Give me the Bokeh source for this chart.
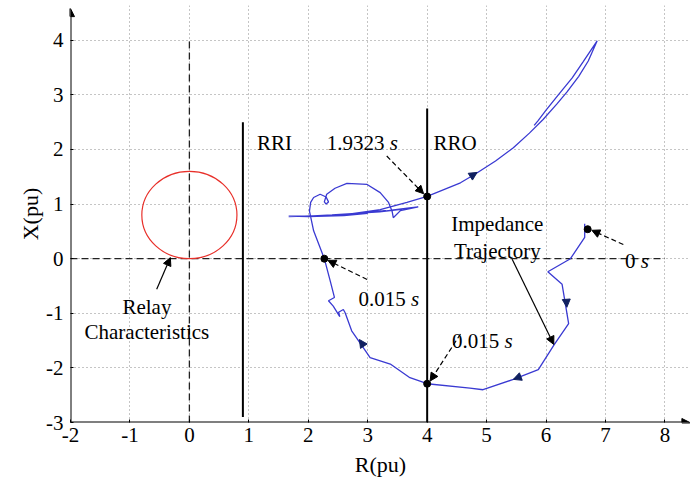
from bokeh.plotting import figure
from bokeh.models import Arrow, NormalHead, FixedTicker, Range1d
from bokeh.core.properties import value
from bokeh.embed import file_html
from bokeh.resources import INLINE

FONT = "Liberation Serif"
FS = "21px"

# axis ticks and their labels (plain hyphen minus)
x_ticks = [-2, -1, 0, 1, 2, 3, 4, 5, 6, 7, 8]
y_ticks = [-3, -2, -1, 0, 1, 2, 3, 4]
x_tick_labels = ["-2", "-1", "0", "1", "2", "3", "4", "5", "6", "7", "8"]
y_tick_labels = ["-3", "-2", "-1", "0", "1", "2", "3", "4"]

# relay (mho) characteristic: centre and diameter
relay_r, relay_x, relay_d = 0.0, 0.8, 1.6

# relay reach lines
rri_r, rri_x0, rri_x1 = 0.9, -2.9, 2.5
rro_r, rro_x0, rro_x1 = 4.0, -3.0, 2.75

# impedance trajectory (R, X) in pu
traj_r = [6.65, 6.65, 6.41, 6.03, 6.27, 6.38, 6.14, 5.87, 5.45, 4.94, 4.72, 4.00,
          3.71, 3.38, 3.04, 2.87, 2.73, 2.62, 2.59, 2.51, 2.53, 2.42, 2.34, 2.44,
          2.37, 2.27, 2.09, 2.02, 2.04, 2.09, 2.20, 2.30, 2.34, 2.30, 2.27, 2.31,
          2.45, 2.65, 2.99, 3.21, 3.35, 3.41, 3.43, 3.55, 3.85, 3.70, 3.40, 3.60,
          3.20, 2.80, 2.40, 2.00, 1.67, 2.00, 2.60, 3.00, 2.85, 3.30, 3.10, 2.65,
          2.20, 1.67, 2.20, 2.65, 3.21, 3.66, 4.00, 4.56, 4.81, 5.15, 5.45, 5.72,
          5.95, 6.18, 6.35, 6.55, 6.71, 6.86, 6.62, 6.44, 6.22, 6.00, 5.86, 5.80]
traj_x = [0.64, 0.39, 0.00, -0.24, -0.47, -1.19, -1.57, -2.03, -2.21, -2.40, -2.37, -2.29,
          -2.18, -1.93, -1.81, -1.54, -1.32, -0.99, -0.93, -0.98, -1.06, -0.87, -0.77, -0.71,
          -0.41, 0.00, 0.51, 0.87, 1.03, 1.12, 1.18, 1.13, 1.04, 1.00, 1.04, 1.18,
          1.29, 1.38, 1.36, 1.21, 1.03, 0.87, 0.75, 0.88, 0.95, 0.93, 0.89, 0.91,
          0.86, 0.83, 0.80, 0.78, 0.78, 0.77, 0.79, 0.83, 0.84, 0.88, 0.86, 0.81,
          0.79, 0.77, 0.79, 0.81, 0.90, 1.03, 1.14, 1.39, 1.55, 1.79, 2.03, 2.30,
          2.55, 2.83, 3.05, 3.34, 3.62, 3.99, 3.60, 3.31, 3.02, 2.72, 2.52, 2.44]

# direction markers along the trajectory (start -> tip)
dir_r0 = [4.68, 6.33, 5.62, 2.97]
dir_x0 = [1.47, -0.60, -2.14, -1.66]
dir_r1 = [4.84, 6.35, 5.45, 2.86]
dir_x1 = [1.58, -0.89, -2.21, -1.48]

# marked time instants
pt_r = [6.70, 2.27, 4.00, 4.00]
pt_x = [0.54, 0.00, -2.29, 1.14]

# dashed callout arrows (start -> tip)
call_r0 = [3.32, 2.99, 4.56, 7.30]
call_x0 = [1.88, -0.38, -1.38, 0.26]
call_r1 = [3.94, 2.33, 4.05, 6.77]
call_x1 = [1.19, -0.03, -2.24, 0.52]

# solid callout arrows (start -> tip)
sol_r0 = [-0.55, 5.43]
sol_x0 = [-0.56, -0.01]
sol_r1 = [-0.32, 6.13]
sol_x1 = [0.02, -1.57]

# time labels: number part and italic unit
time_txt = ["1.9323", "0.015", "0.015", "0"]
time_r = [2.31, 2.845, 4.417, 7.33]
time_x = [2.11, -0.74, -1.51, -0.04]
unit_off = [63, 52.5, 52.5, 15.75]

# other text annotations
note_txt = ["RRI", "RRO"]
note_r = [1.136, 4.107]
note_x = [2.11, 2.11]
center_txt = ["Relay", "Characteristics", "Impedance", "Trajectory"]
center_r = [-0.715, -0.715, 5.18, 5.18]
center_x = [-0.885, -1.34, 0.64, 0.14]

p = figure(width=696, height=479, output_backend="svg", toolbar_location=None,
           x_range=Range1d(-2, 8.43), y_range=Range1d(-3, 4.637),
           min_border_left=70, min_border_right=6, min_border_top=5, min_border_bottom=57)
p.outline_line_color = None
p.background_fill_color = "white"

for ax in (p.xaxis[0], p.yaxis[0]):
    ax.axis_line_color = None
    ax.major_tick_in = 3
    ax.major_tick_out = 0
    ax.major_tick_line_color = "black"
    ax.major_tick_line_width = 1
    ax.minor_tick_line_color = None
    ax.major_label_text_font = FONT
    ax.major_label_text_font_size = FS
    ax.major_label_text_color = "black"
    ax.axis_label_text_font = FONT
    ax.axis_label_text_font_size = "22px"
    ax.axis_label_text_font_style = "normal"
    ax.axis_label_text_color = "black"
p.xaxis.ticker = FixedTicker(ticks=x_ticks)
p.yaxis.ticker = FixedTicker(ticks=y_ticks)
p.xaxis.major_label_overrides = dict(zip(x_ticks, x_tick_labels))
p.yaxis.major_label_overrides = dict(zip(y_ticks, y_tick_labels))
p.xaxis.axis_label = "R(pu)"
p.yaxis.axis_label = "X(pu)"
p.xaxis.major_label_standoff = 5
p.yaxis.major_label_standoff = 7
p.xaxis.axis_label_standoff = 7
p.yaxis.axis_label_standoff = 0

p.xgrid.ticker = FixedTicker(ticks=x_ticks)
p.ygrid.ticker = FixedTicker(ticks=y_ticks)
p.xgrid.bounds = (y_ticks[0], y_ticks[-1])
p.ygrid.bounds = (x_ticks[0], x_ticks[-1])
for g in (p.xgrid[0], p.ygrid[0]):
    g.grid_line_color = "#8a8a8a"
    g.grid_line_dash = "1 3"
    g.grid_line_width = 1

# dashed reference axes through the origin
p.segment(x0=[x_ticks[0], 0], y0=[0, y_ticks[0]], x1=[x_ticks[-1], 0], y1=[0, y_ticks[-1]],
          line_color="#222222", line_dash="7 4", line_width=1.3)

# relay characteristic
p.ellipse(x=[relay_r], y=[relay_x], width=[relay_d], height=[relay_d],
          fill_color=None, line_color="#e8302a", line_width=1.2)

# reach lines
p.segment(x0=[rri_r, rro_r], y0=[rri_x0, rro_x0], x1=[rri_r, rro_r], y1=[rri_x1, rro_x1],
          line_color="black", line_width=2)

# trajectory
p.line(traj_r, traj_x, line_color="#3a3ad2", line_width=1.3)
for a, b, c, d in zip(dir_r0, dir_x0, dir_r1, dir_x1):
    p.add_layout(Arrow(end=NormalHead(size=8, fill_color="#102060", line_color="#102060"),
                       x_start=a, y_start=b, x_end=c, y_end=d, line_alpha=0))

# callouts
for a, b, c, d in zip(call_r0, call_x0, call_r1, call_x1):
    p.add_layout(Arrow(end=NormalHead(size=8, fill_color="black", line_color="black"),
                       x_start=a, y_start=b, x_end=c, y_end=d,
                       line_color="black", line_width=1.2, line_dash="5 3"))
for a, b, c, d in zip(sol_r0, sol_x0, sol_r1, sol_x1):
    p.add_layout(Arrow(end=NormalHead(size=8, fill_color="black", line_color="black"),
                       x_start=a, y_start=b, x_end=c, y_end=d,
                       line_color="black", line_width=1.2))

p.scatter(pt_r, pt_x, size=7, color="black")

# axes with arrowheads
p.add_layout(Arrow(end=NormalHead(size=8, fill_color="black", line_color="black"),
                   x_start=x_ticks[0], y_start=y_ticks[0], x_end=8.42, y_end=y_ticks[0],
                   line_color="black", line_width=2))
p.add_layout(Arrow(end=NormalHead(size=8, fill_color="black", line_color="black"),
                   x_start=x_ticks[0], y_start=y_ticks[0], x_end=x_ticks[0], y_end=4.58,
                   line_color="black", line_width=2))

# texts
p.text(time_r, time_x, text=time_txt, text_font=value(FONT), text_font_size=value(FS),
       text_baseline="alphabetic", text_align="left", text_color="black")
p.text(time_r, time_x, text=["s"] * len(time_r), x_offset=unit_off,
       text_font=value(FONT), text_font_size=value(FS), text_font_style="italic",
       text_baseline="alphabetic", text_align="left", text_color="black")
p.text(note_r, note_x, text=note_txt, text_font=value(FONT), text_font_size=value(FS),
       text_baseline="alphabetic", text_align="left", text_color="black")
p.text(center_r, center_x, text=center_txt, text_font=value(FONT), text_font_size=value(FS),
       text_baseline="alphabetic", text_align="center", text_color="black")

open("out.html", "w").write(file_html(p, INLINE))
